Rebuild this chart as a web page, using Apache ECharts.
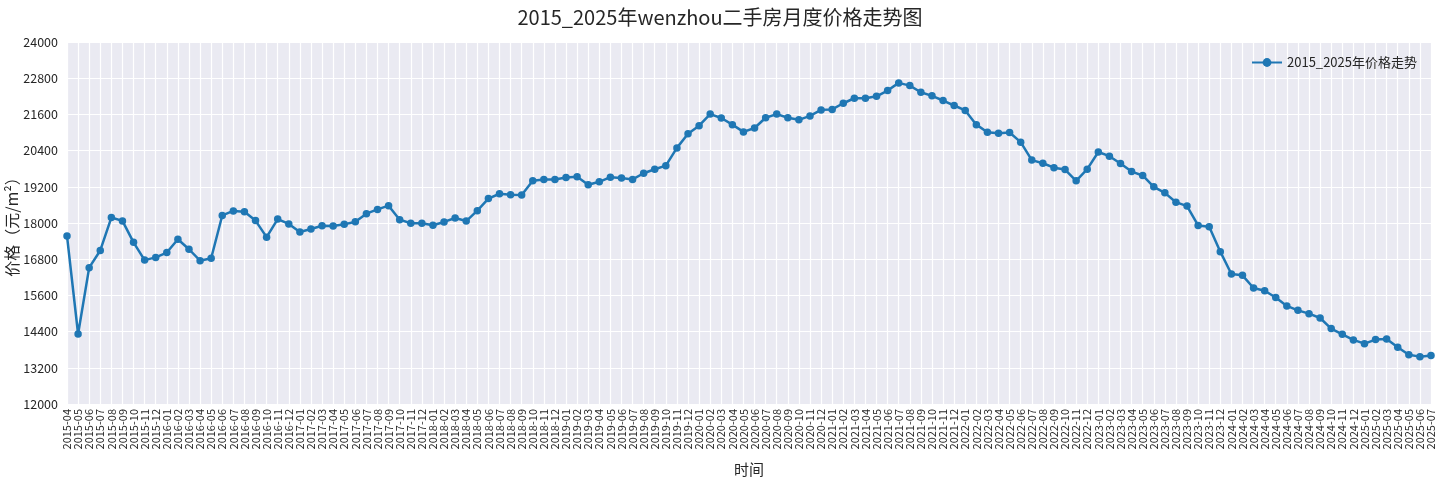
<!DOCTYPE html>
<html>
<head>
<meta charset="utf-8">
<script src="https://cdn.jsdelivr.net/npm/echarts@6/dist/echarts.min.js"></script>
<style>
  html, body { margin: 0; padding: 0; background: #fff; }
  #main { width: 1440px; height: 480px; }
</style>
</head>
<body>
<div id="main"></div>
<script>
// 月份（类目）
var months = [
  '2015-04','2015-05','2015-06','2015-07','2015-08','2015-09','2015-10','2015-11','2015-12',
  '2016-01','2016-02','2016-03','2016-04','2016-05','2016-06','2016-07','2016-08','2016-09','2016-10','2016-11','2016-12',
  '2017-01','2017-02','2017-03','2017-04','2017-05','2017-06','2017-07','2017-08','2017-09','2017-10','2017-11','2017-12',
  '2018-01','2018-02','2018-03','2018-04','2018-05','2018-06','2018-07','2018-08','2018-09','2018-10','2018-11','2018-12',
  '2019-01','2019-02','2019-03','2019-04','2019-05','2019-06','2019-07','2019-08','2019-09','2019-10','2019-11','2019-12',
  '2020-01','2020-02','2020-03','2020-04','2020-05','2020-06','2020-07','2020-08','2020-09','2020-10','2020-11','2020-12',
  '2021-01','2021-02','2021-03','2021-04','2021-05','2021-06','2021-07','2021-08','2021-09','2021-10','2021-11','2021-12',
  '2022-01','2022-02','2022-03','2022-04','2022-05','2022-06','2022-07','2022-08','2022-09','2022-10','2022-11','2022-12',
  '2023-01','2023-02','2023-03','2023-04','2023-05','2023-06','2023-07','2023-08','2023-09','2023-10','2023-11','2023-12',
  '2024-01','2024-02','2024-03','2024-04','2024-05','2024-06','2024-07','2024-08','2024-09','2024-10','2024-11','2024-12',
  '2025-01','2025-02','2025-03','2025-04','2025-05','2025-06','2025-07'
];

// 价格（元/m²），按年分开
var price2015 = [17570, 14320, 16520, 17090, 18180, 18070, 17360, 16770, 16860];
var price2016 = [17020, 17460, 17130, 16750, 16830, 18250, 18400, 18375, 18080, 17530, 18130, 17970];
var price2017 = [17700, 17800, 17910, 17900, 17955, 18040, 18310, 18450, 18575, 18110, 17990, 17990];
var price2018 = [17925, 18035, 18165, 18065, 18410, 18810, 18970, 18940, 18930, 19400, 19445, 19445];
var price2019 = [19510, 19535, 19270, 19365, 19520, 19495, 19445, 19650, 19780, 19900, 20490, 20960];
var price2020 = [21225, 21610, 21480, 21260, 21020, 21150, 21490, 21610, 21490, 21420, 21550, 21750];
var price2021 = [21765, 21970, 22135, 22135, 22200, 22390, 22645, 22555, 22335, 22215, 22060, 21895];
var price2022 = [21730, 21260, 21010, 20975, 21000, 20680, 20085, 19980, 19835, 19770, 19400, 19785];
var price2023 = [20355, 20215, 19970, 19705, 19575, 19200, 19000, 18690, 18560, 17920, 17875, 17050];
var price2024 = [16310, 16265, 15845, 15755, 15530, 15250, 15105, 14995, 14850, 14500, 14310, 14125];
var price2025 = [14000, 14135, 14155, 13880, 13630, 13570, 13605];

// y轴刻度
var yTicks = [12000, 13200, 14400, 15600, 16800, 18000, 19200, 20400, 21600, 22800, 24000];

var prices = [].concat(price2015, price2016, price2017, price2018, price2019,
  price2020, price2021, price2022, price2023, price2024, price2025);

var font = '"Noto Sans CJK SC", "DejaVu Sans", sans-serif';
var textColor = '#262626';

var myChart = echarts.init(document.getElementById('main'));

myChart.setOption({
  animation: false,
  backgroundColor: '#ffffff',
  textStyle: { fontFamily: font },
  title: {
    text: '2015_2025年wenzhou二手房月度价格走势图',
    left: 'center',
    top: 2,
    textStyle: { fontFamily: font, fontSize: 20, fontWeight: 'normal', color: textColor }
  },
  legend: {
    data: ['2015_2025年价格走势'],
    right: 18,
    top: 51,
    itemWidth: 30,
    itemHeight: 11,
    textStyle: { fontFamily: font, fontSize: 13, color: textColor }
  },
  grid: {
    left: 67,
    right: 9,
    top: 42,
    bottom: 76,
    outerBoundsMode: 'none',
    containLabel: false,
    backgroundColor: '#EAEAF2',
    borderWidth: 0,
    show: true
  },
  xAxis: {
    type: 'category',
    data: months,
    boundaryGap: false,
    name: '时间',
    nameLocation: 'middle',
    nameGap: 58,
    nameMoveOverlap: false,
    nameTextStyle: { fontFamily: font, fontSize: 15, color: textColor },
    axisLine: { show: false },
    axisTick: { show: false },
    axisLabel: {
      interval: 0,
      rotate: 90,
      margin: 5,
      fontSize: 11,
      color: textColor,
      fontFamily: font
    },
    splitLine: {
      show: true,
      interval: 0,
      lineStyle: { color: '#ffffff', width: 1.2 }
    }
  },
  yAxis: {
    type: 'value',
    min: yTicks[0],
    max: yTicks[yTicks.length - 1],
    interval: yTicks[1] - yTicks[0],
    name: '价格（元/m²）',
    nameLocation: 'middle',
    nameGap: 47,
    nameMoveOverlap: false,
    nameTextStyle: { fontFamily: font, fontSize: 16, color: textColor },
    axisLine: { show: false },
    axisTick: { show: false },
    axisLabel: {
      fontSize: 12.5,
      color: textColor,
      margin: 9,
      fontFamily: font,
      formatter: function (v) { return String(v); }
    },
    splitLine: { show: true, lineStyle: { color: '#ffffff', width: 1.2 } }
  },
  series: [{
    name: '2015_2025年价格走势',
    type: 'line',
    data: prices,
    symbol: 'circle',
    symbolSize: 7.5,
    showAllSymbol: true,
    itemStyle: { color: '#1f77b4' },
    lineStyle: { color: '#1f77b4', width: 2.5 }
  }]
});
</script>
</body>
</html>
